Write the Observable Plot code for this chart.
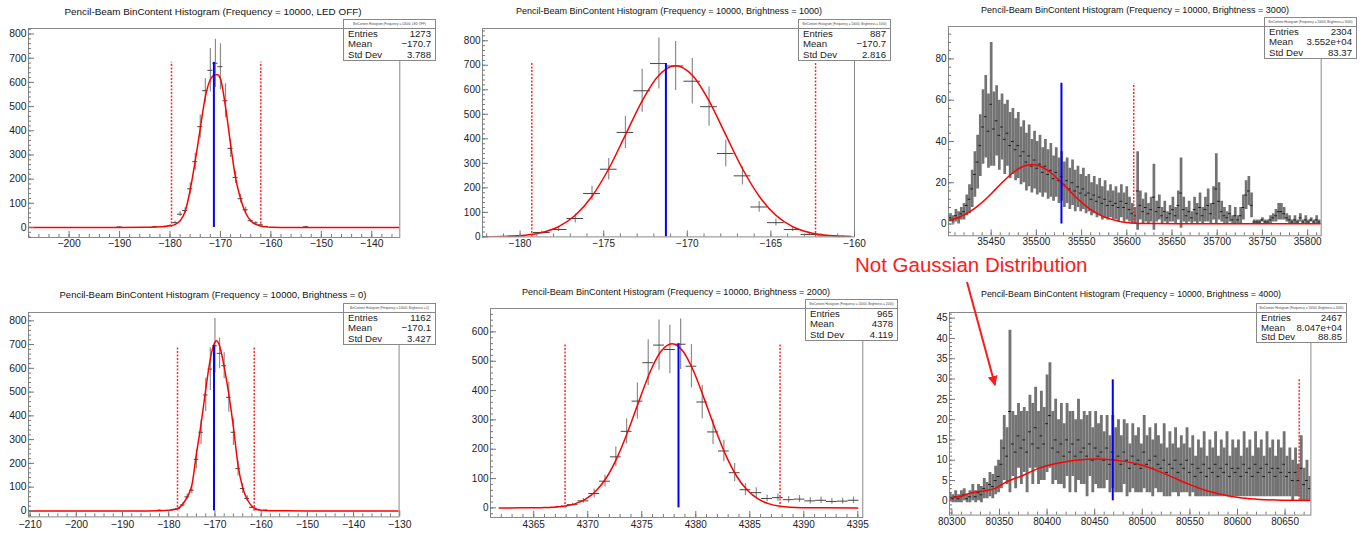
<!DOCTYPE html>
<html><head><meta charset="utf-8">
<script src="https://cdn.jsdelivr.net/npm/d3@7"></script>
<script src="https://cdn.jsdelivr.net/npm/@observablehq/plot@0.6"></script>
<style>
html,body{margin:0;padding:0;background:#fff;}
body{width:1366px;height:533px;overflow:hidden;position:relative;font-family:"Liberation Sans",Arial,Helvetica,sans-serif;}
#root{position:absolute;left:0;top:0;width:1366px;height:533px;}
.panel{position:absolute;}
.stats{position:absolute;background:#fff;border:1px solid #888;box-sizing:border-box;color:#222;font-size:9.6px;}
.stats .hdr{height:8px;line-height:8px;font-size:3px;text-align:center;border-bottom:1px solid #888;overflow:hidden;white-space:nowrap;color:#444;}
.stats .row{display:flex;justify-content:space-between;padding:0 4px;}
#overlay{position:absolute;left:0;top:0;pointer-events:none;}
</style></head>
<body><div id="root"></div>
<script>
// ---------- DATA ----------
const titles = [
  "Pencil-Beam BinContent Histogram (Frequency = 10000, LED OFF)",
  "Pencil-Beam BinContent Histogram (Frequency = 10000, Brightness = 1000)",
  "Pencil-Beam BinContent Histogram (Frequency = 10000, Brightness = 3000)",
  "Pencil-Beam BinContent Histogram (Frequency = 10000, Brightness = 0)",
  "Pencil-Beam BinContent Histogram (Frequency = 10000, Brightness = 2000)",
  "Pencil-Beam BinContent Histogram (Frequency = 10000, Brightness = 4000)"
];
const statHeaders = [
  "BinContent Histogram (Frequency = 10000, LED OFF)",
  "BinContent Histogram (Frequency = 10000, Brightness = 1000)",
  "BinContent Histogram (Frequency = 10000, Brightness = 3000)",
  "BinContent Histogram (Frequency = 10000, Brightness = 0)",
  "BinContent Histogram (Frequency = 10000, Brightness = 2000)",
  "BinContent Histogram (Frequency = 10000, Brightness = 4000)"
];
const statKeys = ["Entries", "Mean", "Std Dev"];
const p1Stats = ["1273", "\u2212170.7", "3.788"];
const p2Stats = ["887", "\u2212170.7", "2.816"];
const p3Stats = ["2304", "3.552e+04", "83.37"];
const p4Stats = ["1162", "\u2212170.1", "3.427"];
const p5Stats = ["965", "4378", "4.119"];
const p6Stats = ["2467", "8.047e+04", "88.85"];
const annotation = "Not Gaussian Distribution";

// Panel 1 (LED OFF)
const p1X = [-190,-183,-181,-180,-179,-178,-177,-176,-175,-174,-173,-172,-171,-170,-169,-168,-167,-166,-165,-164,-163,-162,-161,-153];
const p1Y = [2,3,4,8,20,55,70,160,272,417,566,650,679,665,524,327,207,119,73,28,19,11,4,3];
const p1E = [2,2,3,4,6,10,12,25,35,48,50,90,100,95,70,38,25,18,12,6,5,4,2,2];
const p1FitX = [-208,-190,-185,-183,-181,-180,-179,-178,-177,-176,-175,-174,-173,-172,-171,-170.6,-170,-169,-168,-167,-166,-165,-164,-163,-162,-161,-160,-158,-150,-134.5];
const p1FitY = [0,0,0.5,1.5,4,7,12,28,66,155,275,410,540,612,632,632,615,500,345,205,118,60,28,13,6,2.5,1,0.3,0,0];
const p1XTicks = [-200,-190,-180,-170,-160,-150,-140];
const p1YTicks = [0,100,200,300,400,500,600,700,800];
const p1Mean = -171.3, p1Limits = [-179.7,-162.0];

// Panel 2 (Brightness = 1000)
const p2X = [-180.2,-178.7,-177.7,-176.7,-175.7,-174.7,-173.7,-172.7,-171.7,-170.7,-169.7,-168.7,-167.7,-166.7,-165.7,-164.7,-163.7,-162.7,-161.7,-160.7];
const p2Y = [3,18,30,75,177,276,426,596,707,697,635,531,340,249,122,58,30,10,4,2];
const p2E = [3,5,8,18,30,44,65,88,104,100,93,80,54,37,22,14,8,5,3,2];
const p2FitX = [-182.2,-181.7,-180.7,-179.7,-178.7,-177.7,-176.7,-175.7,-174.7,-173.7,-172.7,-171.7,-170.7,-169.7,-168.7,-167.7,-166.7,-165.7,-164.7,-163.7,-162.7,-161.7,-160.7,-160.2];
const p2FitY = [0.3,0.6,2.2,6.6,17.6,42,88,166,278,416,555,659,698,659,555,416,278,166,88,42,17.6,6.6,2.2,1.2];
const p2XTicks = [-180,-175,-170,-165,-160];
const p2YTicks = [0,100,200,300,400,500,600,700,800];
const p2Mean = -171.28, p2Limits = [-179.3,-162.33];

// Panel 3 (Brightness = 3000), bins of width 3 starting at 35405
const p3Start = 35405, p3Step = 3;
const p3Y = [3,2,4,3,5,6,9,12,17,24, 30,38,47,52,45,58,46,50,43,47, 41,44,38,40,36,38,33,35,30,33,
  28,31,27,29,25,28,24,26,22,25, 21,23,19,21,17,20,16,18,15,17, 14,15,12,14,11,13,10,12,9,11,
  9,10,8,11,8,10,7,5,4,16, 9,6,8,5,7,13,6,8,4,6, 3,5,7,4,9,15,7,4,6,3, 7,5,8,4,7,9,5,10,17,11,
  6,4,3,5,2,4,2,4,8,14, 16,9,1,1,1,2,1,1,2,3, 4,6,6,5,3,2,1,2,1,3, 1,2,1,2,1,2,1];
const p3E = [2,2,3,3,3,4,5,7,9,11, 13,15,18,20,18,30,18,17,17,16, 17,16,16,16,15,16,14,15,14,15,
  13,14,13,14,12,13,12,13,11,12, 11,12,11,11,10,11,10,10,9,10, 9,9,8,9,8,9,8,9,7,8,
  7,8,7,8,7,8,6,5,4,19, 7,6,7,5,6,16,5,6,4,5, 3,4,6,4,7,17,6,4,5,3, 6,5,7,4,6,8,5,8,17,9,
  5,4,3,4,2,4,2,4,6,7, 7,6,1,1,1,1,1,1,2,2, 3,4,4,3,2,2,1,2,1,2, 1,2,1,1,1,2,1];
const p3FitX = [35403,35415,35425,35435,35445,35455,35465,35475,35485,35495,35505,35515,35525,35535,35545,35555,35565,35575,35585,35595,35605,35615,35630,35700,35815];
const p3FitY = [1.8,3.4,5.6,8.7,12.5,16.9,21.3,25.2,27.9,28.8,27.9,25.2,21.3,16.9,12.5,8.7,5.6,3.4,2.0,1.0,0.5,0.3,0.2,0.1,0.1];
const p3XTicks = [35450,35500,35550,35600,35650,35700,35750,35800];
const p3YTicks = [0,20,40,60,80];
const p3Mean = 35527.7, p3Limits = [35607.7];

// Panel 4 (Brightness = 0)
const p4X = [-182,-179,-178,-177,-176,-175,-174,-173,-172,-171,-170,-169,-168,-167,-166,-165,-164,-163,-162,-161,-159];
const p4Y = [3,6,10,25,59,87,217,331,488,597,695,663,611,478,331,178,94,52,15,5,3];
const p4E = [2,3,4,8,12,15,40,52,70,90,115,65,55,63,56,31,21,12,6,3,2];
const p4FitX = [-210.3,-185,-182,-180,-179,-178,-177,-176,-175,-174,-173,-172,-171,-170,-169.7,-169,-168,-167,-166,-165,-164,-163,-162,-161,-160,-158,-150,-130.2];
const p4FitY = [0,0,0.5,2.5,5,10,28,59,108,241,366,510,640,710,716,695,605,490,352,192,98,48,20,7,2.5,0.5,0,0];
const p4XTicks = [-210,-200,-190,-180,-170,-160,-150,-140,-130];
const p4YTicks = [0,100,200,300,400,500,600,700,800];
const p4Mean = -170.2, p4Limits = [-178.1,-161.5];

// Panel 5 (Brightness = 2000)
const p5X = [4366.6,4367.6,4368.6,4369.6,4370.6,4371.6,4372.6,4373.6,4374.6,4375.6,4376.6,4377.6,4378.6,4379.6,4380.6,4381.6,4382.6,4383.6,4384.6,4385.6,4386.6,4387.6,4388.6,4389.6,4390.6,4391.6,4392.6,4393.6,4394.6];
const p5Y = [1,5,11,24,49,91,174,261,364,495,555,540,558,483,361,259,194,120,62,52,32,35,28,30,24,26,22,23,26];
const p5E = [2,3,5,8,15,20,34,43,62,78,86,83,86,74,57,43,37,31,20,17,12,12,11,12,11,11,10,10,11];
const p5FitX = [4361.8,4363.8,4364.8,4365.8,4366.8,4367.8,4368.8,4369.8,4370.8,4371.8,4372.8,4373.8,4374.8,4375.8,4376.8,4377.8,4378.8,4379.8,4380.8,4381.8,4382.8,4383.8,4384.8,4385.8,4386.8,4387.8,4388.8,4389.8,4391.8,4395];
const p5FitY = [0,0.1,0.2,0.8,2.2,5.7,13.6,29.7,59,107,178,269,370,466,535,560,535,466,370,269,178,107,59,29.7,13.6,5.7,2.2,0.8,0.1,0];
const p5XTicks = [4365,4370,4375,4380,4385,4390,4395];
const p5YTicks = [0,100,200,300,400,500,600];
const p5Mean = 4378.4, p5Limits = [4367.9,4387.8];

// Panel 6 (Brightness = 4000), bins of width 3 starting at 80298
const p6Start = 80298, p6Step = 3;
const p6Y = [1,0.5,1,0.5,1,1.5,0.5,1,2,1, 2,1.5,3,2.5,4,3.5,5,6,9,13, 11,22,14,12,16,13,15,12,17,14,
  18,13,16,14,19,21,13,15,12,14, 11,15,12,14,11,15,12,13,11,14, 10,13,11,12,10,13,9,12,10,11,
  9,12,10,8,11,9,10,8,12,9, 10,8,11,9,8,10,7,9,8,10, 7,9,8,10,7,9,6,8,7,9, 6,8,7,9,6,8,7,9,6,8,
  7,8,6,9,7,8,6,9,7,8, 6,9,7,8,6,8,7,9,6,7, 5,7,5,8,4,5,3];
const p6E = [1,1,1.5,1,1.5,1.5,1,1.5,2,1.5, 2,2,2.5,2,3,3,3.5,4,6,8, 7,20,8,9,8,9,8,10,9,10,
  10,9,11,9,12,13,9,10,8,10, 8,9,10,8,9,10,8,9,10,8, 8,9,8,9,7,8,7,9,8,9,
  7,8,9,6,8,7,8,6,9,7, 8,7,8,7,6,9,6,8,6,8, 6,7,6,8,6,7,5,7,6,8, 5,7,6,8,5,7,6,8,5,7,
  6,7,5,8,6,7,5,8,6,7, 5,8,6,7,5,7,6,8,5,6, 5,6,4,8,4,5,3];
const p6FitX = [80297.5,80310,80321,80335,80345,80356,80375,80391,80410,80430,80455,80475,80496,80515,80531,80550,80566,80585,80601,80620,80640,80677];
const p6FitY = [0.7,1.2,2.0,2.5,3.0,4.5,6.3,8.0,9.2,10.0,10.3,9.9,9.0,7.5,5.9,4.0,2.6,1.5,0.8,0.4,0.2,0.1];
const p6XTicks = [80300,80350,80400,80450,80500,80550,80600,80650];
const p6YTicks = [0,5,10,15,20,25,30,35,40,45];
const p6Mean = 80469, p6Limits = [80664.8];

// ---------- LAYOUT ----------
const panels = [
  {frame:[27.7,27.7,399,236.7], xDomain:[-208.05,-134.45], yDomain:[-41.4,823], xs:p1X, ys:p1Y, es:p1E, binW:1,
   fitX:p1FitX, fitY:p1FitY, xTicks:p1XTicks, xMinor:2, yTicks:p1YTicks, yMinor:20, mean:p1Mean, meanTop:683, limits:p1Limits, limTop:683,
   mL:28, xPad:2, fs:10.4, title:[213,14.5,297,9.9], box:[343,19,436,61], stats:p1Stats},
  {frame:[482,28.3,854,236.7], xDomain:[-182.25,-160], yDomain:[0,850], xs:p2X, ys:p2Y, es:p2E, binW:1,
   fitX:p2FitX, fitY:p2FitY, xTicks:p2XTicks, xMinor:1, yTicks:p2YTicks, yMinor:20, mean:p2Mean, meanTop:707, limits:p2Limits, limTop:707,
   mL:34, xPad:2.5, fs:10, title:[669,14,306,9], box:[798,19,891,61], stats:p2Stats},
  {frame:[948,26,1320.7,235.3], xDomain:[35402.8,35815], yDomain:[-5.7,95.7], xs:p3Y.map((_, i) => p3Start + i * p3Step), ys:p3Y, es:p3E, binW:p3Step, dense:true,
   fitX:p3FitX, fitY:p3FitY, xTicks:p3XTicks, xMinor:10, yTicks:p3YTicks, yMinor:4, mean:p3Mean, meanTop:68.2, limits:p3Limits, limTop:68,
   mL:34, xPad:2, fs:10, title:[1135,12.5,308,9], box:[1264,17,1357,59], stats:p3Stats},
  {frame:[27.7,312.3,398.3,516.7], xDomain:[-210.35,-130.15], yDomain:[-25.2,835], xs:p4X, ys:p4Y, es:p4E, binW:1,
   fitX:p4FitX, fitY:p4FitY, xTicks:p4XTicks, xMinor:2, yTicks:p4YTicks, yMinor:20, mean:p4Mean, meanTop:695, limits:p4Limits, limTop:691,
   mL:28, xPad:4, fs:10.4, title:[213,298,307,9.5], box:[343,303,436,345], stats:p4Stats},
  {frame:[490,308.3,862.3,517.3], xDomain:[4361,4395.46], yDomain:[-32.7,679.8], xs:p5X, ys:p5Y, es:p5E, binW:1,
   fitX:p5FitX, fitY:p5FitY, xTicks:p5XTicks, xMinor:1, yTicks:p5YTicks, yMinor:20, mean:p5Mean, meanTop:560, limits:p5Limits, limTop:555,
   mL:34, xPad:3, fs:10, title:[676,295,308,9], box:[805,299,898,341], stats:p5Stats},
  {frame:[949.3,311.7,1310.7,514.3], xDomain:[80297.5,80677.1], yDomain:[-3.52,46.4], xs:p6Y.map((_, i) => p6Start + i * p6Step), ys:p6Y, es:p6E, binW:p6Step, dense:true,
   fitX:p6FitX, fitY:p6FitY, xTicks:p6XTicks, xMinor:10, yTicks:p6YTicks, yMinor:1, mean:p6Mean, meanTop:29.8, limits:p6Limits, limTop:29.8,
   mL:34, xPad:2.4, fs:10, title:[1131,297,300,8.9], box:[1256,303,1347,343], stats:p6Stats}
];

const root = document.getElementById("root");
const fmt = d3.format("d");
const minorRange = (d, s) => d3.range(Math.ceil(d[0] / s) * s, d[1] + 1e-9, s);
const FONT = '"Liberation Sans", Arial, Helvetica, sans-serif';

panels.forEach((cfg, k) => {
  const [fx0, fy0, fx1, fy1] = cfg.frame;
  const mL = cfg.mL, mR = 4, mT = 4, mB = 22;
  const W = fx1 - fx0 + mL + mR, H = fy1 - fy0 + mT + mB;
  const bins = cfg.ys.map((y, i) => ({x: cfg.xs[i], y, e: cfg.es[i]}));
  const fit = cfg.fitX.map((x, i) => ({x, y: cfg.fitY[i]}));
  const tickColor = "#777";
  // bar width in pixels: one bin wide for the dense histograms, so neighbouring bars touch
  const binPx = cfg.binW * (fx1 - fx0) / (cfg.xDomain[1] - cfg.xDomain[0]);
  const plot = Plot.plot({
    width: W, height: H,
    marginLeft: mL, marginRight: mR, marginTop: mT, marginBottom: mB,
    style: {background: "none", overflow: "visible", fontFamily: FONT, fontSize: cfg.fs + "px", color: "#222"},
    x: {domain: cfg.xDomain},
    y: {domain: cfg.yDomain},
    marks: [
      Plot.ruleX(bins, {x: "x", y1: d => d.y - d.e, y2: d => d.y + d.e,
        stroke: cfg.dense ? "#737373" : "#8c8c8c", strokeWidth: cfg.dense ? binPx : 1.2, clip: true}),
      Plot.ruleY(bins, {y: "y", x1: d => d.x - cfg.binW / 2, x2: d => d.x + cfg.binW / 2,
        stroke: cfg.dense ? "#1a1a1a" : "#444", strokeWidth: 1, clip: true}),
      Plot.line(fit, {x: "x", y: "y", stroke: "#ff0000", strokeWidth: 1.5, curve: "monotone-x", clip: true}),
      Plot.ruleX(cfg.limits, {y1: 0, y2: cfg.limTop, stroke: "#ff2a2a", strokeWidth: 1.5, strokeDasharray: "2,1.5"}),
      Plot.ruleX([cfg.mean], {y1: 0, y2: cfg.meanTop, stroke: "#0000ff", strokeWidth: 2}),
      Plot.frame({stroke: "#888"}),
      Plot.axisX(cfg.xTicks, {tickSize: -6, fill: "none", stroke: tickColor, label: null}),
      Plot.axisX(minorRange(cfg.xDomain, cfg.xMinor), {tickSize: -3, fill: "none", stroke: tickColor, label: null}),
      Plot.axisX(cfg.xTicks, {tickSize: 0, tickPadding: cfg.xPad, tickFormat: fmt, fill: "#222", label: null}),
      Plot.axisY(cfg.yTicks, {tickSize: -6, fill: "none", stroke: tickColor, label: null}),
      Plot.axisY(minorRange(cfg.yDomain, cfg.yMinor), {tickSize: -3, fill: "none", stroke: tickColor, label: null}),
      Plot.axisY(cfg.yTicks, {tickSize: 0, tickPadding: 2, tickFormat: fmt, fill: "#222", label: null})
    ]
  });
  const wrap = document.createElement("div");
  wrap.className = "panel";
  wrap.style.left = (fx0 - mL) + "px";
  wrap.style.top = (fy0 - mT) + "px";
  wrap.appendChild(plot);
  root.appendChild(wrap);
});

// stats boxes
panels.forEach((cfg, k) => {
  const [bx0, by0, bx1, by1] = cfg.box;
  const div = document.createElement("div");
  div.className = "stats";
  Object.assign(div.style, {left: bx0 + "px", top: by0 + "px", width: (bx1 - bx0) + "px", height: (by1 - by0) + "px"});
  const rowH = ((by1 - by0) - 11) / 3;
  let html = `<div class="hdr">${statHeaders[k]}</div>`;
  statKeys.forEach((key, i) => {
    html += `<div class="row" style="height:${rowH}px;line-height:${rowH}px"><span>${key}</span><span>${cfg.stats[i]}</span></div>`;
  });
  div.innerHTML = html;
  root.appendChild(div);
});

// overlay: titles, annotation, arrow
const svg = d3.select(root).append("svg").attr("id", "overlay").attr("width", 1366).attr("height", 533)
  .style("font-family", FONT);
svg.append("defs").append("marker").attr("id", "ah").attr("viewBox", "0 0 10 10")
  .attr("refX", 9).attr("refY", 5).attr("markerWidth", 5).attr("markerHeight", 5).attr("orient", "auto")
  .append("path").attr("d", "M0,0L10,5L0,10z").attr("fill", "#ff1a1a");
panels.forEach((cfg, k) => {
  const [tx, ty, tw, tfs] = cfg.title;
  svg.append("text").attr("x", tx).attr("y", ty).attr("text-anchor", "middle")
    .attr("font-size", tfs).attr("textLength", tw).attr("lengthAdjust", "spacingAndGlyphs")
    .attr("fill", "#111").text(titles[k]);
});
svg.append("text").attr("x", 855).attr("y", 272).attr("font-size", 20.5).attr("fill", "#ff1a1a").text(annotation);
svg.append("line").attr("x1", 967).attr("y1", 282).attr("x2", 995).attr("y2", 385)
  .attr("stroke", "#ff1a1a").attr("stroke-width", 2).attr("marker-end", "url(#ah)");
</script></body></html>
